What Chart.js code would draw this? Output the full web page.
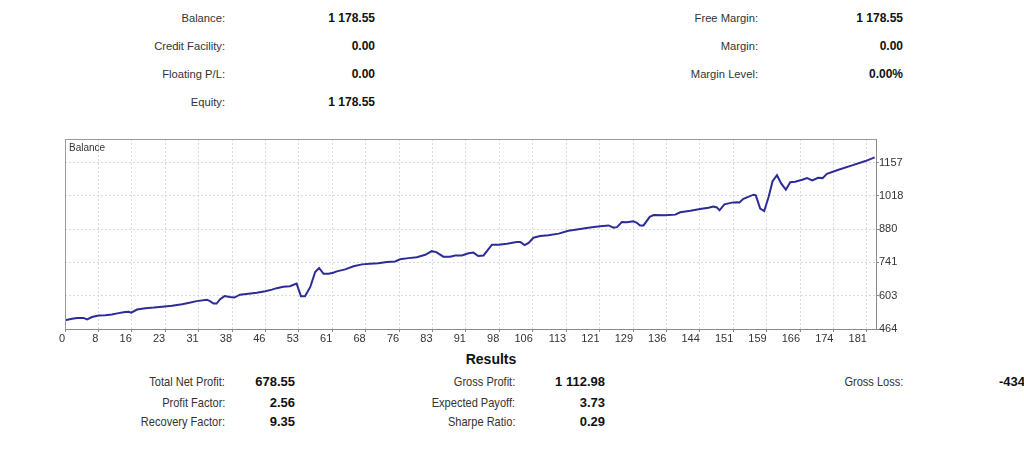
<!DOCTYPE html>
<html>
<head>
<meta charset="utf-8">
<script src="https://cdn.jsdelivr.net/npm/chart.js@4.4.1/dist/chart.umd.min.js"></script>
<style>
  body { margin: 0; background: #fff; width: 1024px; height: 449px; overflow: hidden; position: relative;
         font-family: "Liberation Sans", Arial, sans-serif; color: #333; }
  .t { position: absolute; white-space: nowrap; font-size: 11.2px; line-height: 14px; text-align: right; }
  .t.v { font-weight: bold; font-size: 12px; color: #111; }
  .r { position: absolute; white-space: nowrap; font-size: 13px; line-height: 14px; text-align: right; color: #333;
       transform: scaleX(0.85); transform-origin: right center; }
  .r.v { font-weight: bold; color: #111; transform: none; }
  #chartBox { position: absolute; left: 0; top: 130px; width: 1024px; height: 220px; }
</style>
</head>
<body>
<!-- account summary -->
<div class="t" style="top:11px;right:799px">Balance:</div>
<div class="t v" style="top:11px;right:649px">1 178.55</div>
<div class="t" style="top:39px;right:799px">Credit Facility:</div>
<div class="t v" style="top:39px;right:649px">0.00</div>
<div class="t" style="top:67px;right:799px">Floating P/L:</div>
<div class="t v" style="top:67px;right:649px">0.00</div>
<div class="t" style="top:95px;right:799px">Equity:</div>
<div class="t v" style="top:95px;right:649px">1 178.55</div>

<div class="t" style="top:11px;right:266px">Free Margin:</div>
<div class="t v" style="top:11px;right:121px">1 178.55</div>
<div class="t" style="top:39px;right:266px">Margin:</div>
<div class="t v" style="top:39px;right:121px">0.00</div>
<div class="t" style="top:67px;right:266px">Margin Level:</div>
<div class="t v" style="top:67px;right:121px">0.00%</div>

<div id="chartBox"><canvas id="balanceChart" width="1024" height="220"></canvas></div>

<!-- results -->
<div class="r v" style="top:352px;left:441px;width:100px;text-align:center;font-size:14px">Results</div>
<div class="r" style="top:375px;right:799px">Total Net Profit:</div>
<div class="r v" style="top:375px;right:729px">678.55</div>
<div class="r" style="top:396px;right:799px">Profit Factor:</div>
<div class="r v" style="top:396px;right:729px">2.56</div>
<div class="r" style="top:415px;right:799px">Recovery Factor:</div>
<div class="r v" style="top:415px;right:729px">9.35</div>
<div class="r" style="top:375px;right:509px">Gross Profit:</div>
<div class="r v" style="top:375px;right:419px">1 112.98</div>
<div class="r" style="top:396px;right:509px">Expected Payoff:</div>
<div class="r v" style="top:396px;right:419px">3.73</div>
<div class="r" style="top:415px;right:509px">Sharpe Ratio:</div>
<div class="r v" style="top:415px;right:419px">0.29</div>
<div class="r" style="top:375px;right:121px">Gross Loss:</div>
<div class="r v" style="top:375px;left:999px;text-align:left">-434.43</div>

<script>
// trade number -> balance
const tradeIdx = [0, 1.6, 2.7, 4.2, 5, 6.1, 7.6, 9.1, 10.6, 11.8, 13.6, 14.4, 15, 16.3, 18.2, 20.1, 22, 24.2, 26.5, 28.4,
  29.8, 32.1, 32.8, 33.6, 34.3, 35.1, 36.1, 37.3, 38.3, 39.6, 41.5, 43.4, 45.3, 46.8, 47.9, 49.4, 50.9, 52.4, 53.4, 54.3,
  55.5, 56.6, 57.5, 58.5, 59.6, 60.7, 61.5, 63.4, 65.3, 67.2, 69, 70.9, 72.8, 74.7, 75.8, 77.7, 79.6, 81.5, 83, 84,
  85.6, 87.1, 88.3, 89.8, 91.3, 92.4, 93.5, 94.7, 96.6, 98.1, 100, 102.2, 103, 104, 104.9, 106, 107.5, 109.4, 111.7, 113.9,
  116.2, 118.8, 121.1, 123, 124.1, 124.9, 126, 127.1, 128.6, 129.4, 130.1, 130.9, 132.3, 133.2, 135.8, 138.1, 139.2, 141.5, 143.7, 145.6,
  146.7, 147.5, 148.1, 149.2, 150.9, 152, 152.6, 153.5, 155.8, 156.3, 157.3, 158.2, 159.2, 160.1, 161.1, 162, 163.1, 164.1, 165.2, 166.8,
  167.9, 169.1, 170.4, 171.4, 172.4, 175, 178.1, 181.1, 183.2];
const balance = [500, 507, 510, 510, 504, 514, 520, 521, 524, 529, 535, 536, 532, 545, 550, 553, 557, 561, 567, 574,
  580, 586, 580, 570, 570, 588, 601, 597, 595, 607, 611, 615, 621, 628, 634, 640, 642, 653, 600, 600,
  639, 701, 718, 694, 694, 698, 704, 712, 725, 733, 736, 738, 743, 745, 754, 759, 763, 773, 788, 784,
  765, 765, 770, 770, 779, 782, 768, 770, 815, 815, 819, 826, 826, 813, 822, 844, 851, 854, 861, 873,
  879, 886, 892, 895, 886, 888, 909, 908, 912, 906, 895, 895, 931, 938, 937, 940, 950, 956, 963, 969,
  974, 970, 958, 983, 990, 992, 991, 1006, 1023, 1020, 965, 955, 1013, 1079, 1104, 1071, 1044, 1075, 1077, 1085,
  1092, 1082, 1093, 1092, 1110, 1127, 1145, 1163, 1178.55];

const xTickLabels = ['0', '8', '16', '23', '31', '38', '46', '53', '61', '68', '76', '83', '91', '98', '106', '113',
  '121', '129', '136', '144', '151', '159', '166', '174', '181'];
const yTickLabels = ['464', '603', '741', '880', '1018', '1157'];

const X_STEP = 7.56;   // trades between vertical grid lines
const X_MAX = 183.5;
const Y_MIN = 464;
const Y_STEP = 138.6;
const Y_MAX = 1254.8;

const framePlugin = {
  id: 'frame',
  afterDatasetsDraw(chart) {
    const { ctx, chartArea: a } = chart;
    ctx.save();
    ctx.strokeStyle = '#9a9a9a';
    ctx.lineWidth = 1;
    ctx.beginPath();
    ctx.moveTo(a.left + 0.5, a.bottom);
    ctx.lineTo(a.left + 0.5, a.top + 0.5);
    ctx.lineTo(a.right, a.top + 0.5);
    ctx.stroke();
    ctx.fillStyle = '#333';
    ctx.font = '10px "Liberation Sans", Arial, sans-serif';
    ctx.textBaseline = 'middle';
    ctx.fillText('Balance', a.left + 4, a.top + 9);
    ctx.restore();
  }
};

const ctx = document.getElementById('balanceChart').getContext('2d');
const chart = new Chart(ctx, {
  type: 'line',
  data: {
    datasets: [{
      label: 'Balance',
      data: tradeIdx.map((x, i) => ({ x: x, y: balance[i] })),
      borderColor: '#2c2c98',
      borderWidth: 2,
      pointRadius: 0,
      tension: 0,
      fill: false
    }]
  },
  options: {
    responsive: false,
    animation: false,
    devicePixelRatio: 1,
    layout: { padding: { left: 65, top: 9, right: 0, bottom: 0 } },
    plugins: { legend: { display: false }, tooltip: { enabled: false } },
    scales: {
      x: {
        type: 'linear',
        min: 0,
        max: X_MAX,
        afterBuildTicks: (s) => { s.ticks = xTickLabels.map((l, i) => ({ value: i * X_STEP })); },
        afterFit: (s) => { s.height = 21; },
        ticks: {
          callback: (v, i) => xTickLabels[i],
          align: 'end',
          maxRotation: 0,
          autoSkip: false,
          padding: 0,
          color: '#333',
          font: { family: '"Liberation Sans", Arial, sans-serif', size: 11 }
        },
        grid: { color: '#dadada', tickColor: '#888', tickLength: 3 },
        border: { color: '#8a8a8a', dash: [2, 2] }
      },
      y: {
        position: 'right',
        min: Y_MIN,
        max: Y_MAX,
        afterBuildTicks: (s) => { s.ticks = yTickLabels.map((l, i) => ({ value: Y_MIN + i * Y_STEP })); },
        afterFit: (s) => { s.width = 148; },
        ticks: {
          callback: (v, i) => yTickLabels[i],
          padding: 0,
          color: '#333',
          font: { family: '"Liberation Sans", Arial, sans-serif', size: 11 }
        },
        grid: { color: '#dadada', tickColor: '#888', tickLength: 3 },
        border: { color: '#8a8a8a', dash: [2, 2] }
      }
    }
  },
  plugins: [framePlugin]
});
</script>
</body>
</html>
